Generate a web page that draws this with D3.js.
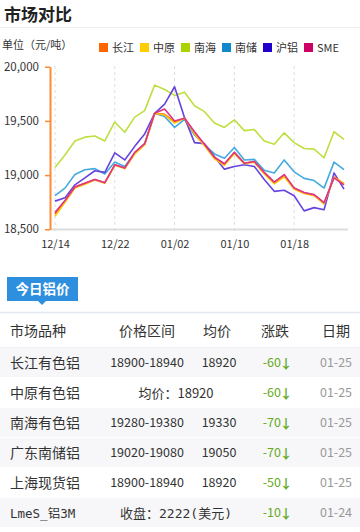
<!DOCTYPE html>
<html><head><meta charset="utf-8">
<script src="https://cdn.jsdelivr.net/npm/d3@7"></script>
<style>
html,body{margin:0;padding:0;background:#fff;}
svg{display:block;font-family:"Noto Sans CJK SC","Noto Sans",sans-serif;}
</style></head>
<body>
<svg id="c" width="360" height="532"></svg>
<script>
const dates = ["12/14","12/15","12/18","12/19","12/20","12/21","12/22","12/25","12/26","12/27","12/28","12/29","01/02","01/03","01/04","01/05","01/08","01/09","01/10","01/11","01/12","01/15","01/16","01/17","01/18","01/19","01/22","01/23","01/24","01/25"];
const tickDates = ["12/14","12/22","01/02","01/10","01/18"];
const yTicks = [18500, 19000, 19500, 20000];
const seriesNames = ["长江","中原","南海","南储","沪铝","SME"];
const legendColors = ["#ff6600","#ffcc00","#aad400","#1188cc","#2200cc","#cc0066"];
const lineColors = ["#ff5511","#ffc400","#bde040","#44aae0","#6644dd","#dd3388"];
const changjiang = [18640,18760,18890,18925,18960,18930,19095,19065,19200,19285,19570,19560,19490,19525,19390,19280,19160,19100,19205,19110,19125,19020,18935,18995,18880,18835,18815,18740,18980,18920];
const zhongyuan  = [18620,18750,18880,18915,18955,18925,19090,19060,19195,19280,19570,19555,19480,19525,19380,19270,19150,19090,19200,19105,19120,19010,18920,18985,18870,18830,18810,18735,18980,18920];
const nanhai     = [19070,19185,19315,19350,19360,19315,19490,19395,19535,19595,19830,19790,19735,19765,19640,19585,19480,19440,19510,19410,19420,19315,19285,19390,19300,19245,19240,19160,19400,19330];
const nanchu     = [18810,18880,19005,19050,19060,19010,19120,19080,19205,19290,19570,19540,19440,19515,19370,19280,19195,19155,19255,19140,19145,19045,19020,19140,19030,18970,18950,18880,19120,19050];
const hulv       = [18760,18790,18910,18975,19040,19025,19205,19140,19265,19380,19570,19655,19815,19530,19300,19290,19170,19055,19080,19095,19080,18960,18850,18860,18810,18670,18700,18680,19020,18870];
const sme        = [18655,18765,18890,18925,18960,18930,19095,19065,19210,19290,19570,19610,19500,19525,19400,19285,19165,19105,19210,19110,19125,19025,18935,19005,18880,18840,18820,18745,18975,18910];
const seriesValues = [changjiang, zhongyuan, nanhai, nanchu, hulv, sme];

const tableHeader = ["市场品种","价格区间","均价","涨跌","日期"];
const rowNames  = ["长江有色铝","中原有色铝","南海有色铝","广东南储铝","上海现货铝","LmeS_铝3M"];
const rowRanges = ["18900-18940","均价：18920","19280-19380","19020-19080","18900-18940","收盘：2222(美元)"];
const rowAvg    = ["18920","","19330","19050","18920",""];
const rowChange = ["-60","-60","-70","-70","-50","-10"];
const rowDate   = ["01-25","01-25","01-25","01-25","01-25","01-24"];
const rowShaded = [true,false,true,true,false,true];

const svg = d3.select("#c");

// Title
svg.append("text").attr("x",4).attr("y",21).attr("font-size",17).attr("font-weight","bold").attr("fill","#222").text("市场对比");
svg.append("line").attr("x1",0).attr("x2",360).attr("y1",27.5).attr("y2",27.5).attr("stroke","#eeeeee");

svg.append("text").attr("x",2).attr("y",49).attr("font-size",11).attr("fill","#333").text("单位（元/吨）");

// Legend
const lg = svg.append("g");
seriesNames.forEach((n,i)=>{
  const x0 = 99 + i*41;
  lg.append("rect").attr("x",x0).attr("y",43).attr("width",9).attr("height",9).attr("fill",legendColors[i]);
  lg.append("text").attr("x",x0+13).attr("y",51.5).attr("font-size",11).attr("fill","#333").text(n);
});

// Scales
const x = d3.scalePoint().domain(dates).range([55,344]);
const y = d3.scaleLinear().domain([18500,20000]).range([229.3,66.7]);

// grid
const grid = svg.append("g");
tickDates.forEach(d=>{
  grid.append("line").attr("x1",x(d)).attr("x2",x(d)).attr("y1",66).attr("y2",234)
    .attr("stroke","#dddddd").attr("stroke-dasharray","3,3");
});
// x axis line
svg.append("line").attr("x1",50).attr("x2",348).attr("y1",229.5).attr("y2",229.5).attr("stroke","#dddddd").attr("stroke-width",2);

// x axis labels
const xAxis = d3.axisBottom(x).tickValues(tickDates).tickSize(0).tickPadding(0);
const gx = svg.append("g").attr("transform","translate(0,240)").call(xAxis);
gx.select(".domain").remove();
gx.selectAll("text").attr("font-size",11).attr("fill","#333").attr("font-family","'Noto Sans CJK SC',sans-serif");

// y axis
const yAxis = d3.axisLeft(y).tickValues(yTicks).tickSize(5).tickSizeOuter(0).tickPadding(6).tickFormat(d3.format(","));
const gy = svg.append("g").attr("transform","translate(50,0)").call(yAxis);
gy.select(".domain").attr("stroke","#ff8833").attr("stroke-width",2);
gy.selectAll(".tick line").attr("stroke","#ff8833").attr("stroke-width",1.5);
gy.selectAll("text").attr("font-size",11.5).attr("fill","#333").attr("font-family","'Noto Sans CJK SC',sans-serif");

// lines
const line = d3.line().x((d,i)=>x(dates[i])).y(d=>y(d));
const order = [2,3,4,0,1,5];
order.forEach(k=>{
  svg.append("path").attr("d",line(seriesValues[k])).attr("fill","none")
    .attr("stroke",lineColors[k]).attr("stroke-width",1.6).attr("stroke-linejoin","round");
});

// Tab
const tab = svg.append("g");
tab.append("rect").attr("x",7).attr("y",277).attr("width",71).attr("height",24).attr("fill","#2e8fdf");
tab.append("path").attr("d","M38,301 L42,305 L46,301 Z").attr("fill","#2e8fdf");
tab.append("text").attr("x",42.5).attr("y",294).attr("text-anchor","middle").attr("font-size",13.5).attr("font-weight","bold").attr("fill","#fff").text("今日铝价");
svg.append("line").attr("x1",0).attr("x2",360).attr("y1",312.5).attr("y2",312.5).attr("stroke","#e3e8f2").attr("stroke-width",1.5);

// Header
const colX = [10,147,217,275,336];
tableHeader.forEach((h,i)=>{
  svg.append("text").attr("x",colX[i]).attr("y",336).attr("text-anchor",i===0?"start":"middle")
    .attr("font-size",14).attr("fill","#333").text(h);
});
svg.append("line").attr("x1",0).attr("x2",360).attr("y1",347.5).attr("y2",347.5).attr("stroke","#f0f0f2");

// Rows
rowNames.forEach((n,i)=>{
  const top = 347.5 + i*30;
  const cy = top + 15;
  if (rowShaded[i]) svg.append("rect").attr("x",0).attr("y",top+0.5).attr("width",360).attr("height",29).attr("fill","#f7f7f9");
  const mono = i===5;
  const ff = mono ? "'DejaVu Sans Mono','Noto Sans CJK SC',monospace" : "'Noto Sans CJK SC',sans-serif";
  svg.append("text").attr("x",10).attr("y",cy+5).attr("font-size",mono?12.5:14).attr("fill","#333").attr("font-family",ff).text(n);
  if (rowAvg[i] === "") {
    svg.append("text").attr("x",176).attr("y",cy+5).attr("text-anchor","middle").attr("font-size",13).attr("fill","#333").attr("font-family",ff).text(rowRanges[i]);
  } else {
    svg.append("text").attr("x",147).attr("y",cy+4.5).attr("text-anchor","middle").attr("font-size",12.5).attr("fill","#333").text(rowRanges[i]);
    svg.append("text").attr("x",219).attr("y",cy+4.5).attr("text-anchor","middle").attr("font-size",12.5).attr("fill","#333").text(rowAvg[i]);
  }
  svg.append("text").attr("x",281).attr("y",cy+4.5).attr("text-anchor","end").attr("font-size",12.5).attr("fill","#66aa22").text(rowChange[i]);
  svg.append("text").attr("x",286).attr("y",cy+5).attr("text-anchor","middle").attr("font-size",13).attr("font-weight","bold").attr("fill","#66aa22").text("↓");
  svg.append("text").attr("x",336).attr("y",cy+4.5).attr("text-anchor","middle").attr("font-size",12.5).attr("fill","#999").text(rowDate[i]);
});
</script>
</body></html>
